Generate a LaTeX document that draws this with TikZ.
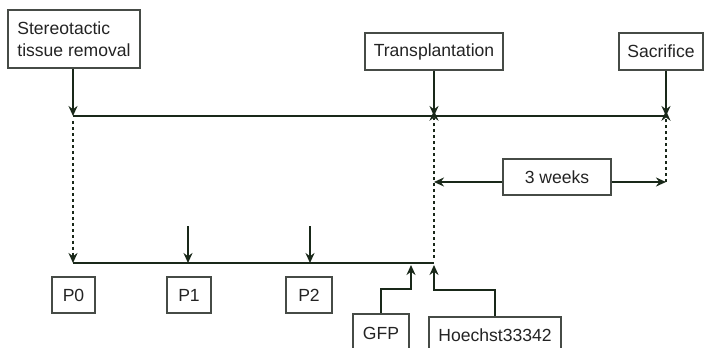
\documentclass[tikz,border=0pt]{standalone}
\usepackage{fontspec}
\setmainfont{Liberation Sans}
\usetikzlibrary{arrows.meta}
\definecolor{ink}{RGB}{25,40,25}
\definecolor{frame}{RGB}{70,75,70}
\definecolor{txt}{RGB}{35,35,35}
\begin{document}
\begin{tikzpicture}[x=0.02cm, y=-0.02cm,
  box/.style={draw=frame, line width=0.9pt, inner sep=0pt, align=left,
    text=txt, font=\fontsize{10}{12.5}\selectfont},
  tl/.style={draw=ink, line width=1.6pt},
  e/.style={draw=ink, line width=1.3pt, -{Stealth[length=2mm, width=1.8mm]}},
  dl/.style={draw=ink, line width=1.6pt, dash pattern=on 1.6pt off 1.8pt,
    -{Stealth[length=2mm, width=1.8mm]}}]
  \useasboundingbox (0,0) rectangle (707,348);

  % boxes
  \node[box, minimum width=2.64cm, minimum height=1.16cm] (stereo) at (74,39)
    {Stereotactic\\tissue removal};
  \node[box, minimum width=2.76cm, minimum height=0.74cm] (transp) at (434,51.5) {Transplantation};
  \node[box, minimum width=1.68cm, minimum height=0.74cm] (sacr) at (661,51.5) {Sacrifice};
  \node[box, minimum width=2.16cm, minimum height=0.72cm] (weeks) at (557,177) {3 weeks};
  \node[box, minimum width=0.86cm, minimum height=0.72cm] (p0) at (73.5,295) {P0};
  \node[box, minimum width=0.88cm, minimum height=0.72cm] (p1) at (189,295) {P1};
  \node[box, minimum width=0.92cm, minimum height=0.72cm] (p2) at (309,295) {P2};
  \node[box, minimum width=1.12cm, minimum height=0.76cm] (gfp) at (381,333) {GFP};
  \node[box, minimum width=2.64cm, minimum height=0.72cm] (hoe) at (495,335) {Hoechst33342};

  % time points
  \coordinate (t0) at (73,116);
  \coordinate (tT) at (434,116);
  \coordinate (tS) at (666,116);
  \coordinate (b0) at (73,263);
  \coordinate (b1) at (188,263);
  \coordinate (b2) at (310,263);
  \coordinate (bG) at (411,265);
  \coordinate (bT) at (434,263);
  \coordinate (a1) at (188,226);
  \coordinate (a2) at (310,226);
  \coordinate (wT) at (434,182);
  \coordinate (wS) at (666,182);

  % timelines
  \draw[tl] (t0) -- (tS);
  \draw[tl] (b0) -- (bT);

  % arrows
  \draw[e] (stereo.south -| t0) -- (t0);
  \draw[e] (transp.south) -- (tT);
  \draw[e] (sacr.south -| tS) -- (tS);
  \draw[e] (a1) -- (b1);
  \draw[e] (a2) -- (b2);
  \draw[e] (weeks.west |- wT) -- (wT);
  \draw[e] (weeks.east |- wS) -- (wS);
  \draw[e] (gfp.north) -- ++(0,-24) -| (bG);
  \draw[e] (hoe.north) -- ++(0,-26) -| (bT |- bG);

  % dotted links
  \draw[dl] ([yshift=-3]t0) -- (b0);
  \draw[dl] ([yshift=3]bT) -- ([yshift=3]tT);
  \draw[dl] (wS) -- ([yshift=3]tS);
\end{tikzpicture}
\end{document}
